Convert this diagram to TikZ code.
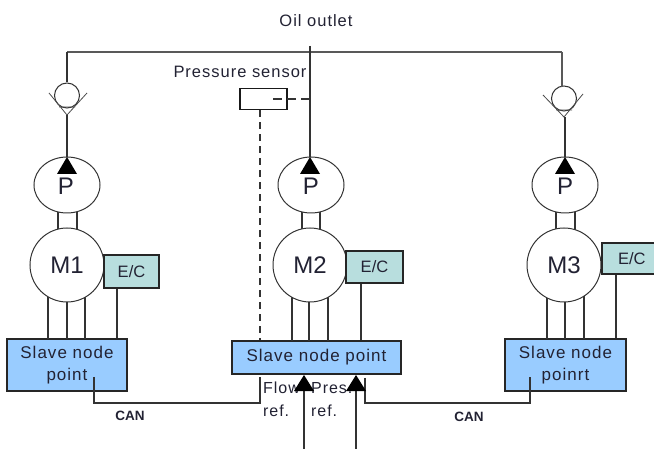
\documentclass[tikz,border=0pt]{standalone}
\usepackage{fontspec}
\setmainfont{Liberation Sans}
\newfontfamily\spaced[LetterSpace=6]{Liberation Sans}
\usetikzlibrary{arrows.meta,shapes.geometric}
\definecolor{ecfill}{HTML}{B8DEDE}
\definecolor{slavefill}{HTML}{99CCFF}
\definecolor{inktext}{HTML}{222233}
\tikzset{
  wire/.style={draw=black!80,line width=1.3pt},
  mainline/.style={draw=black!65,line width=2pt},
  dashwire/.style={draw=black!80,line width=1.3pt,dash pattern=on 9pt off 5pt},
  dashsignal/.style={draw=black!80,line width=1.5pt,dash pattern=on 7pt off 5pt},
  pumpbody/.style={ellipse,draw=black!80,line width=1pt,fill=white,minimum width=66pt,minimum height=56pt,inner sep=0pt},
  motorbody/.style={circle,draw=black!80,line width=1pt,fill=white,minimum size=74pt,inner sep=0pt,text=inktext,font=\fontsize{24}{24}\selectfont},
  checkball/.style={circle,draw=black!80,line width=1pt,fill=white,minimum size=25pt,inner sep=0pt},
  ecbox/.style={draw=black!85,line width=1.3pt,fill=ecfill,inner sep=0pt,text=inktext,font=\fontsize{16.5}{16.5}\selectfont},
  slavebox/.style={draw=black!85,line width=1.3pt,fill=slavefill,inner sep=0pt,align=center,text=inktext,font=\spaced\fontsize{17}{22}\selectfont},
  sensorbox/.style={draw=black!90,line width=1.3pt,fill=white,inner sep=0pt},
  lab/.style={inner sep=0pt,text=inktext,font=\spaced\fontsize{16.5}{16.5}\selectfont},
  reflab/.style={inner sep=0pt,align=left,text=inktext,font=\spaced\fontsize{16}{23}\selectfont},
  canlab/.style={inner sep=0pt,text=inktext,font=\bfseries\fontsize{13.5}{13.5}\selectfont},
  plab/.style={inner sep=0pt,text=inktext,font=\fontsize{24}{24}\selectfont},
  tiparrow/.style={fill=black,draw=none}
}
\begin{document}
\begin{tikzpicture}[x=1pt,y=-1pt]
\useasboundingbox (0,0) rectangle (654,449);
\fill[white] (0,0) rectangle (654,449);
% free ends
\coordinate (top) at (310,46);
\coordinate (tl) at (67,52);
\coordinate (tr) at (562,52);
\coordinate (ar1) at (304,449);
\coordinate (ar2) at (356,449);
\coordinate (xa) at (117,0);
\coordinate (xb) at (361,0);
\coordinate (xc) at (616,0);
\coordinate (xd) at (260,0);
% main line
\draw[mainline] (tl) -- (tr);
\draw[wire] (top) -- (310,157);
% check valves
\node[checkball] (v1) at (67,95.5) {};
\node[checkball] (v3) at (564,98.5) {};
\draw[wire] (tl) -- (v1.north);
\draw[mainline] (tr) -- (562,87);
\draw[draw=black!70,line width=0.8pt] (49,93) -- (67,115) -- (87,93) (59,107) -- (75,107);
\draw[draw=black!70,line width=0.8pt] (543,95) -- (564,117) -- (583,94) (556,110) -- (572,110);
\draw[wire] (67,115) -- (67,157);
\draw[wire] (565,117) -- (565,157);
% shafts
\draw[wire] (58,210) -- (58,232) (77,210) -- (77,232);
\draw[wire] (302,210) -- (302,232) (320,210) -- (320,232);
\draw[wire] (556,210) -- (556,232) (575,210) -- (575,232);
% pumps
\node[pumpbody] (p1) at (67,185) {};
\node[pumpbody] (p2) at (311,185) {};
\node[pumpbody] (p3) at (565,185) {};
\node[plab] (pa) at (66,186.5) {P};
\node[plab] (pb) at (311,186.5) {P};
\node[plab] (pc) at (565,186.5) {P};
\fill[tiparrow] (67,157) -- (77,174) -- (57,174) -- cycle;
\fill[tiparrow] (310,157) -- (320,174) -- (300,174) -- cycle;
\fill[tiparrow] (565,157) -- (575,174) -- (555,174) -- cycle;
% slave boxes
\node[slavebox,minimum width=120pt,minimum height=52pt] (s1) at (67,365) {\raisebox{-2pt}{Slave node}\\\raisebox{-2pt}{point}};
\node[slavebox,minimum width=169pt,minimum height=33pt] (s2) at (316.5,357.5) {Slave node point};
\node[slavebox,minimum width=121pt,minimum height=52pt] (s3) at (565.5,365) {\raisebox{-2pt}{Slave node}\\\raisebox{-2pt}{poinrt}};
% wires motors to slaves
\foreach \x in {48,67,85} \draw[wire] (\x,265) -- (\x,339);
\foreach \x in {292,309,328} \draw[wire] (\x,265) -- (\x,341);
\foreach \x in {547,565,584} \draw[wire] (\x,265) -- (\x,339);
% motors
\node[motorbody] (m1) at (67,265) {M1};
\node[motorbody] (m2) at (310,265) {M2};
\node[motorbody] (m3) at (564,265) {M3};
% E/C
\node[ecbox,minimum width=55pt,minimum height=33pt] (e1) at (131.5,271.5) {E/C};
\node[ecbox,minimum width=57pt,minimum height=32pt] (e2) at (374.5,267) {E/C};
\node[ecbox,minimum width=62pt,minimum height=31pt,text width=50pt,align=left] (e3) at (633,258.5) {\hspace{10pt}E/C};
\draw[wire] (e1.south -| xa) -- (s1.north -| xa);
\draw[wire] (e2.south -| xb) -- (s2.north -| xb);
\draw[wire] (e3.south -| xc) -- (s3.north -| xc);
% sensor
\node[sensorbox,minimum width=47pt,minimum height=21pt] (ps) at (263.5,99) {};
\draw[dashwire] (273,99) -- (310,99);
\draw[dashsignal] (ps.south -| xd) -- (s2.north -| xd);
% CAN
\draw[wire] (94,377) -- (94,403) -- (260,403) -- (260,377);
\draw[wire] (365,378) -- (365,403) -- (530,403) -- (530,377);
% labels
\node[lab] (oil) at (316,21) {Oil outlet};
\node[lab] (pres) at (240,72) {Pressure sensor};
\node[reflab,anchor=north west] (fl) at (263,382) {Flow\\ref.};
\node[reflab,anchor=north west] (pr) at (311,382) {Pres.\\ref.};
\node[canlab] (c1) at (130,416) {CAN};
\node[canlab] (c2) at (469,417) {CAN};
% ref arrows
\draw[wire] (ar1) -- (304,385);
\draw[wire] (ar2) -- (356,385);
\fill[tiparrow] (304,375) -- (314,391) -- (294,391) -- cycle;
\fill[tiparrow] (356,375) -- (366,391) -- (346,391) -- cycle;
\end{tikzpicture}
\end{document}
